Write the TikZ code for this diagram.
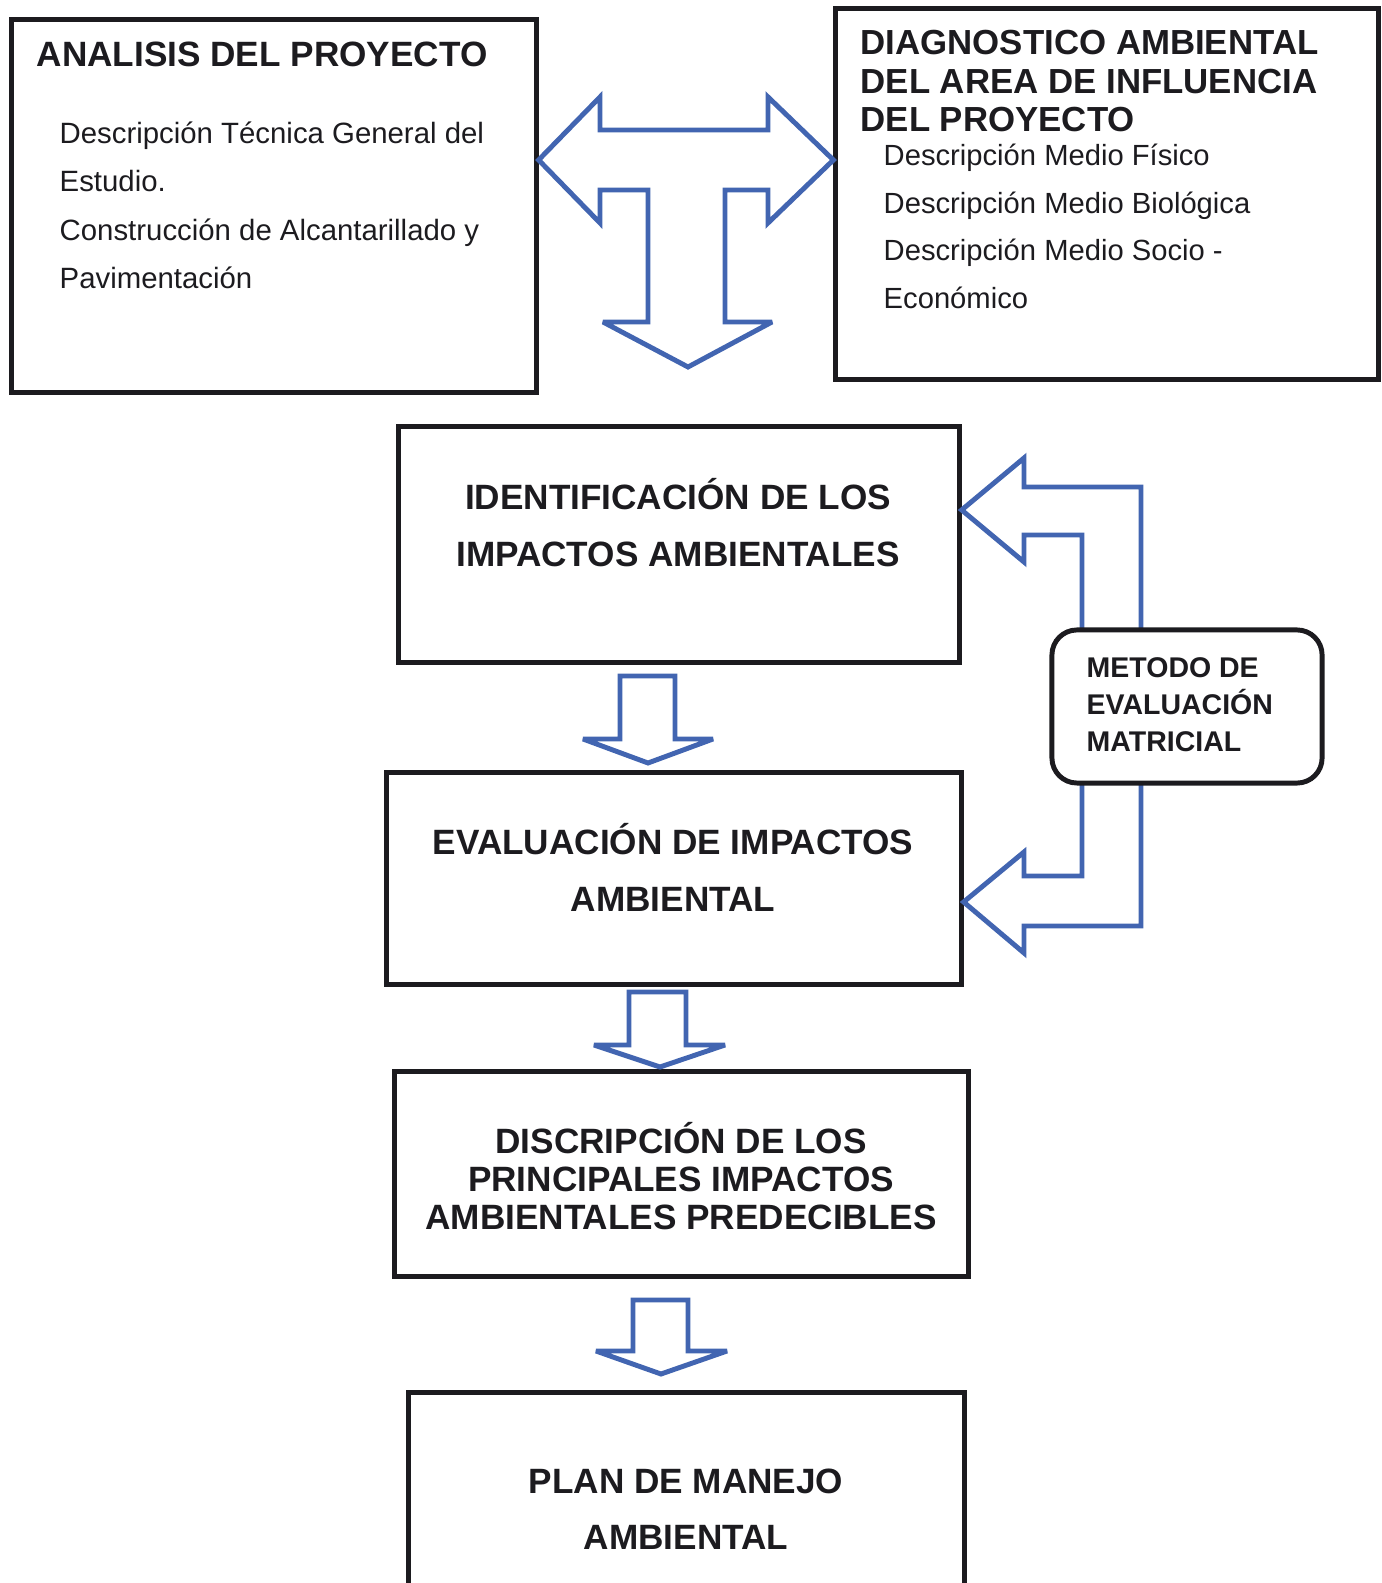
\documentclass[tikz,border=0pt]{standalone}
\usepackage{fontspec}
\setmainfont{Liberation Sans}
\usepackage{tikz}
\definecolor{azulflecha}{RGB}{66,101,177}
\definecolor{negro}{RGB}{28,27,31}

\begin{document}
\begin{tikzpicture}[x=0.01cm,y=-0.01cm,
  caja/.style={draw=negro,line width=1.4pt,inner sep=0pt},
  flecha/.style={draw=azulflecha,line width=1.4pt,line join=miter,miter limit=4},
  encabezado/.style={font=\bfseries\fontsize{10}{11}\selectfont,text=negro,inner sep=0pt,align=left},
  texto/.style={font=\fontsize{8.35}{13.8}\selectfont,text=negro,inner sep=0pt,align=left},
  central/.style={font=\bfseries\fontsize{10}{16}\selectfont,text=negro,inner sep=0pt,align=center}]
  \useasboundingbox (0,0) rectangle (1381,1583);

  \node[caja,minimum width=5.24cm,minimum height=3.72cm] (analisis) at (274,206) {};
  \node[caja,minimum width=5.42cm,minimum height=3.70cm] (diagnostico) at (1107,194) {};
  \node[caja,minimum width=5.60cm,minimum height=2.35cm] (identificacion) at (679,544.5) {};
  \node[caja,minimum width=5.74cm,minimum height=2.11cm] (evaluacion) at (674,878.5) {};
  \node[caja,minimum width=5.73cm,minimum height=2.04cm] (discripcion) at (681.5,1174) {};
  \node[caja,minimum width=5.55cm,minimum height=2.50cm] (plan) at (686.5,1518) {};

  \node[encabezado,anchor=north west] (analisis-tit) at (36,41) {ANALISIS DEL PROYECTO};
  \node[texto,anchor=north west] (analisis-txt) at (59,121)
    {Descripción Técnica General del\\Estudio.\\Construcción de Alcantarillado y\\Pavimentación};
  \node[encabezado,anchor=north west,font=\bfseries\fontsize{9.9}{10.9}\selectfont] (diagnostico-tit) at (860,30)
    {DIAGNOSTICO AMBIENTAL\\DEL AREA DE INFLUENCIA\\DEL PROYECTO};
  \node[texto,anchor=north west,font=\fontsize{8.3}{13.6}\selectfont] (diagnostico-txt) at (883,143)
    {Descripción Medio Físico\\Descripción Medio Biológica\\Descripción Medio Socio -\\Económico};
  \node[central,anchor=north] (identificacion-txt) at (678,478)
    {IDENTIFICACIÓN DE LOS\\IMPACTOS AMBIENTALES};
  \node[central,anchor=north] (evaluacion-txt) at (673,823)
    {EVALUACIÓN DE IMPACTOS\\AMBIENTAL};
  \node[central,anchor=north,font=\bfseries\fontsize{10}{10.7}\selectfont] (discripcion-txt) at (681,1122)
    {DISCRIPCIÓN DE LOS\\PRINCIPALES IMPACTOS\\AMBIENTALES PREDECIBLES};
  \node[central,anchor=north] (plan-txt) at (686,1468)
    {PLAN DE MANEJO\\AMBIENTAL};

  \draw[flecha]
    (analisis.east |- 0,160)
    -- (600,97) -- (600,130) -- (768,130) -- (768,97)
    -- (diagnostico.west |- 0,160)
    -- (768,223) -- (768,190) -- (725,190) -- (725,322) -- (772,322)
    -- (688,367)
    -- (603,322) -- (648,322) -- (648,190) -- (600,190) -- (600,223)
    -- cycle;

  \draw[flecha]
    (620,676) -- (675,676) -- (675,739) -- (713,739)
    -- (648,763)
    -- (583,739) -- (620,739) -- cycle;
  \draw[flecha]
    (629,992) -- (686,992) -- (686,1045) -- (725,1045)
    -- (660,1067)
    -- (594,1045) -- (629,1045) -- cycle;
  \draw[flecha]
    (633,1300) -- (688,1300) -- (688,1351) -- (727,1351)
    -- (661,1374)
    -- (596,1351) -- (633,1351) -- cycle;

  \draw[flecha]
    (1082,640) -- (1082,535) -- (1024,535) -- (1024,562)
    -- (identificacion.east |- 0,510)
    -- (1024,458) -- (1024,487) -- (1141,487) -- (1141,640);
  \draw[flecha]
    (1082,770) -- (1082,876) -- (1024,876) -- (1024,852)
    -- (evaluacion.east |- 0,902)
    -- (1024,953) -- (1024,926) -- (1141,926) -- (1141,770);

  \node[caja,rounded corners=0.25cm,fill=white,minimum width=2.70cm,minimum height=1.53cm] (metodo) at (1187,706.5) {};
  \node[encabezado,anchor=north west,font=\bfseries\fontsize{8.1}{10.5}\selectfont] (metodo-txt) at (1086,657)
    {METODO DE\\EVALUACIÓN\\MATRICIAL};
\end{tikzpicture}
\end{document}
